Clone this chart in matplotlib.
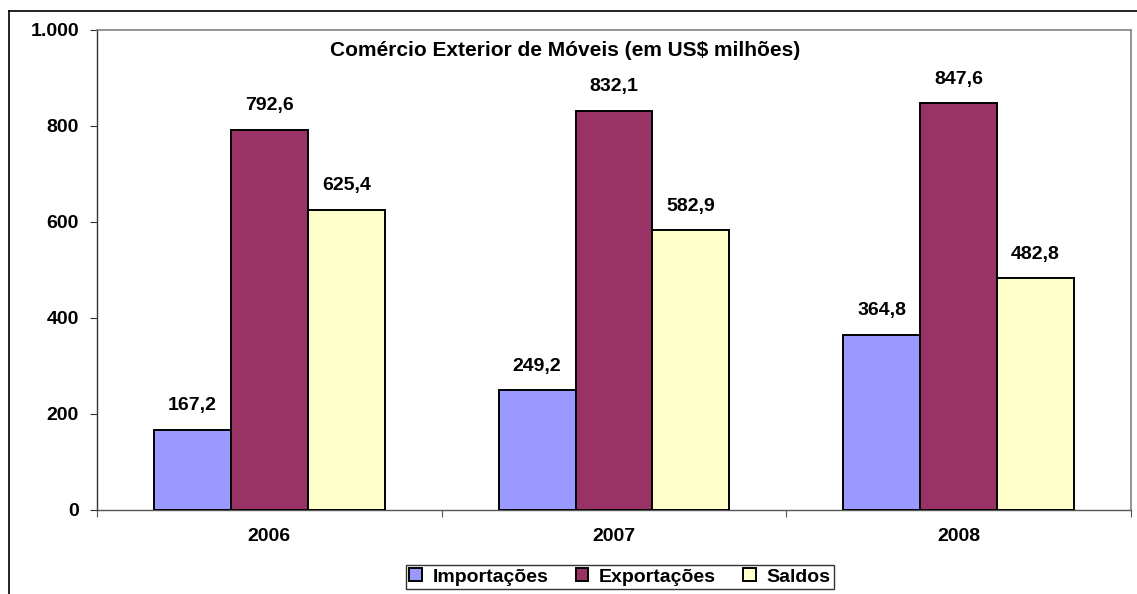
import matplotlib
matplotlib.use("Agg")
import matplotlib.pyplot as plt
import numpy as np
from matplotlib.lines import Line2D
from matplotlib.ticker import FuncFormatter, FixedLocator

plt.rcParams['font.family'] = ['Liberation Sans', 'DejaVu Sans']

years = ["2006", "2007", "2008"]
series_names = ["Importações", "Exportações", "Saldos"]
importacoes = [167.2, 249.2, 364.8]
exportacoes = [792.6, 832.1, 847.6]
saldos = [625.4, 582.9, 482.8]
colors = ["#9999FF", "#993366", "#FFFFCC"]
title = "Comércio Exterior de Móveis (em US$ milhões)"

fig = plt.figure(figsize=(11.37, 5.94), dpi=100)
ax = fig.add_axes([97/1137, 1-510/594, (1131-97)/1137, (510-30)/594])

x = np.arange(len(years))
w = 0.223
for i, (vals, c, name) in enumerate(zip([importacoes, exportacoes, saldos], colors, series_names)):
    pos = x + (i - 1) * w
    ax.bar(pos, vals, width=w, color=c, edgecolor="black", linewidth=1.4, label=name, zorder=3)
    for px, v in zip(pos, vals):
        ax.text(px, v + 50, f"{v:.1f}".replace(".", ","), ha="center", va="center",
                fontsize=14, fontweight="bold")

ax.set_xlim(-0.5, 2.5)
ax.set_ylim(0, 1000)
ax.set_yticks([0, 200, 400, 600, 800, 1000])
ax.yaxis.set_major_formatter(FuncFormatter(lambda v, p: f"{int(v):,}".replace(",", ".")))
ax.xaxis.set_major_locator(FixedLocator([-0.5, 0.5, 1.5, 2.5]))
ax.set_xticklabels([])
ax.xaxis.set_minor_locator(FixedLocator(list(x)))
ax.set_xticklabels(years, minor=True)
ax.tick_params(axis="x", which="minor", length=0, pad=13, labelsize=14)
ax.tick_params(axis="x", which="major", length=5, color="#555555", direction="out")
ax.tick_params(axis="y", length=5, color="#333333", labelsize=14, pad=8)
for lbl in ax.get_yticklabels() + ax.get_xticklabels(minor=True):
    lbl.set_fontweight("bold")

for s in ["top", "right"]:
    ax.spines[s].set_color("#808080")
    ax.spines[s].set_linewidth(1.2)
ax.spines["left"].set_color("#333333")
ax.spines["bottom"].set_color("#555555")
ax.spines["left"].set_linewidth(1.0)
ax.spines["bottom"].set_linewidth(1.0)

fig.text(565/1137, 1-50/594, title, ha="center", va="center", fontsize=15, fontweight="bold")

leg = fig.legend(loc="center", bbox_to_anchor=(620/1137, 1-577/594), ncol=3, frameon=True,
                 fancybox=False, edgecolor="black", prop={"weight": "bold", "size": 14},
                 handlelength=0.65, handleheight=0.65, handletextpad=0.55, columnspacing=1.4,
                 borderpad=0.15, borderaxespad=0)
leg.get_frame().set_linewidth(1.0)

# outer chart frame
fig.add_artist(Line2D([9/1137, 9/1137], [0, 1-11/594], color="black", linewidth=1.2, transform=fig.transFigure))
fig.add_artist(Line2D([9/1137, 1], [1-11/594, 1-11/594], color="black", linewidth=1.2, transform=fig.transFigure))

fig.savefig("out.png", dpi=100)
